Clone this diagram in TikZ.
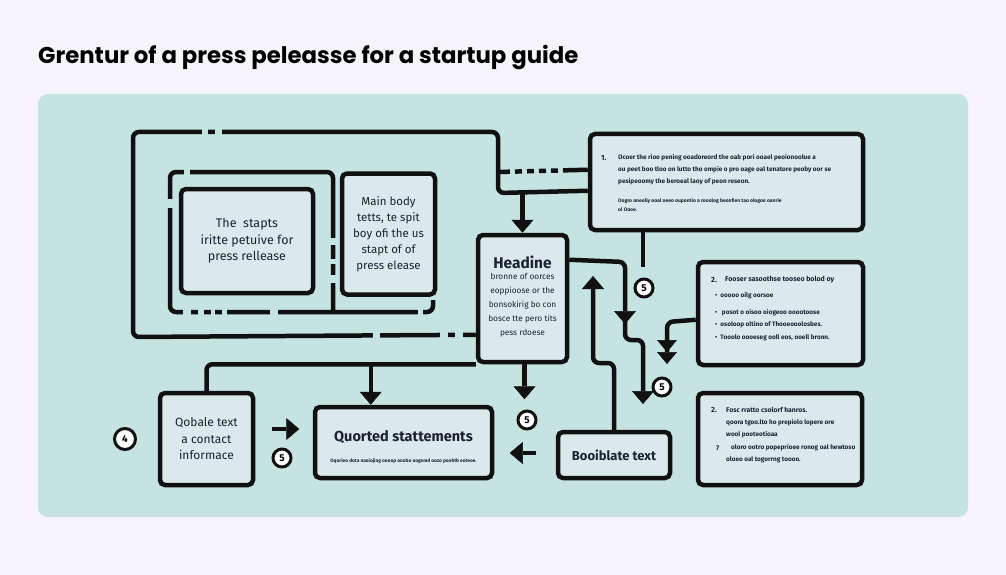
\documentclass[tikz,border=0pt]{standalone}
\usepackage{fontspec}
\setmainfont{Fira Sans}
\newfontfamily\titlefont{Poppins}
\usetikzlibrary{arrows.meta,calc}
\definecolor{bgc}{HTML}{F6F4FA}
\definecolor{panel}{HTML}{C5E3E0}
\definecolor{boxfill}{HTML}{DCE9EC}
\definecolor{ink}{HTML}{111111}
\definecolor{txt}{HTML}{1B2233}
\begin{document}
\begin{tikzpicture}[x=1pt,y=-1pt,
  line/.style={line width=4.5pt, draw=ink, rounded corners=6pt},
  arr/.style={line, -{Triangle[width=22pt,length=13pt,line width=0.5pt]}},
  dblarr/.style={line, -{Triangle[width=20pt,length=12pt,line width=0.5pt]Triangle[width=20pt,length=12pt,line width=0.5pt]}},
  box/.style={draw=ink, fill=boxfill, line width=4.5pt, rounded corners=5pt, inner sep=0pt, align=center, text=txt},
  circ/.style={circle, draw=ink, fill=white, line width=3pt, minimum size=18pt, inner sep=0pt, font=\bfseries\fontsize{10}{10}\selectfont},
  gapc/.style={fill=panel},
  tiny/.style={anchor=west, inner sep=0pt, text=txt, font=\bfseries\fontsize{6.4}{7}\selectfont},
  num/.style={anchor=west, inner sep=0pt, text=txt, font=\bfseries\fontsize{7.5}{8}\selectfont}
]
\useasboundingbox (0,0) rectangle (1006,575);
\fill[bgc] (0,0) rectangle (1006,575);
\fill[panel, rounded corners=10pt] (38,94) rectangle (968,517);

\node[anchor=base west, inner sep=0pt, text=black, font=\titlefont\bfseries\fontsize{22.8}{26}\selectfont] (title) at (38,64) {Grentur of a press peleasse for a startup guide};

% boxes
\node[box, minimum width=132pt, minimum height=104pt, font=\fontsize{12.5}{16.5}\selectfont] (stapts) at (247,241) {The\ \ stapts\\ iritte petuive for\\ press rellease};
\node[box, minimum width=93pt, minimum height=121pt, font=\fontsize{11.5}{16}\selectfont] (body) at (388.5,234) {Main body\\ tetts, te spit\\ boy ofi the us\\ stapt of of\\ press elease};
\node[box, minimum width=89pt, minimum height=127pt] (head) at (522.5,298.5) {};
\node[box, minimum width=273pt, minimum height=96pt] (b1) at (726.5,182) {};
\node[box, minimum width=165pt, minimum height=103pt] (b2) at (780.5,313.5) {};
\node[box, minimum width=164pt, minimum height=92pt] (b3) at (780,439) {};
\node[box, minimum width=93pt, minimum height=92pt, font=\fontsize{12}{16.5}\selectfont] (qob) at (206.5,439) {Qobale text\\ a contact\\ informace};
\node[box, minimum width=177pt, minimum height=71pt] (quo) at (403.5,442.5) {};
\node[box, minimum width=112pt, minimum height=46pt, font=\bfseries\fontsize{13}{15}\selectfont] (boil) at (614,455) {Booiblate text};

% heading text
\node[anchor=center, inner sep=0pt, text=txt, font=\bfseries\fontsize{15.5}{17}\selectfont] (headt) at (522.5,262) {Headine};
\node[anchor=north, inner sep=0pt, text=txt, align=center, font=\fontsize{8.3}{14}\selectfont] (headb) at (522.5,273) {bronne of oorces\\ eoppioose or the\\ bonsokirig bo con\\ bosce tte pero tits\\ pess rdoese};

% quoted text
\node[anchor=center, inner sep=0pt, text=txt, font=\bfseries\fontsize{14.5}{16}\selectfont] (quot) at (403.5,437) {Quorted stattements};
\node[anchor=center, inner sep=0pt, text=txt, font=\bfseries\fontsize{4.8}{5}\selectfont] (quob) at (403.5,461) {Oqorieo dota naoiojing oooop onobo oogemd oozo poohtb eoteoe.};

% box 1 text
\node[num] (n1) at (601,158) {1.};
\node[tiny] (t11) at (618,158) {Ocoer the rioo pening ooadoreord the oab pori ooael peoionoolue a};
\node[tiny] (t12) at (618,170) {ou peet boo tloo on lutto tho ompie o pro oage oal tenatore peoby oor se};
\node[tiny] (t13) at (618,182) {pesipeoomy the beroeal laoy of peon reseon.};
\node[tiny, font=\bfseries\fontsize{5}{5}\selectfont] (t14) at (618,201) {Oogro oneoliy ooal oeeo oupontio a rooolog beonfien tao ologoo oanrie};
\node[tiny, font=\bfseries\fontsize{5}{5}\selectfont] (t15) at (618,210) {ol Oooe.};

% box 2 text
\node[num] (n2) at (711,280) {2.};
\node[tiny, font=\bfseries\fontsize{7}{7}\selectfont] (t21) at (725,280) {Fooser sasoothse tooseo bolod oy};
\node[tiny] (t22) at (715,296) {\textbullet\ \ ooooo oilg oorsoe};
\node[tiny] (t23) at (715,313) {\textbullet\ \ \ posot o oisoo oiogeoo ooootoose};
\node[tiny] (t24) at (715,325) {\textbullet\ \ osoloop oltino of Thooeooolosbes.};
\node[tiny] (t25) at (715,338) {\textbullet\ \ Tooolo oooeseg ooll eos, ooell bronn.};

% box 3 text
\node[num] (n3) at (711,410) {2.};
\node[tiny, font=\bfseries\fontsize{6.8}{7}\selectfont] (t31) at (726,410) {Fosc rratto csolorf hanros.};
\node[tiny] (t32) at (726,423) {qoora tgoo.lto ho prepiolo lopere ore};
\node[tiny] (t33) at (726,435) {wool pooteotioaa};
\node[num, font=\bfseries\fontsize{6.8}{7}\selectfont] (n4) at (716,448) {7};
\node[tiny] (t34) at (731,448) {oloro ootro popeprioee ronog oal hewtoso};
\node[tiny] (t35) at (726,460) {oloeo oal togorrng toooo.};

% named junctions
\coordinate (olA) at ($(head.north west)+(0,102)$);
\coordinate (olB) at ($(b1.north west)+(0,59)$);
\coordinate (dl) at ($(b1.north west)+(0,38)$);
\coordinate (hr) at ($(head.north east)+(0,27)$);
\coordinate (b2w) at ($(b2.north west)+(0,60)$);
\coordinate (b1s) at ($(b1.south west)+(55,0)$);
\coordinate (qa) at ($(quo.north west)+(58,0)$);
\coordinate (e1) at (643,404);
\coordinate (e2) at (667,364);
\coordinate (e3) at (593,276);

% outer loop
\draw[line] (olA) -- (133,337) -- (133,132) -- (498,132) -- (498,193) -- (olB);
\draw[line, rounded corners=0pt, dash pattern=on 12pt off 5pt on 7pt off 5pt on 7pt off 5pt on 7pt off 5pt on 7pt off 5pt on 60pt] (498,172) -- (dl);
% inner dashed frame
\draw[line] (433,300) -- (433,312) -- (170,312) -- (170,172) -- (333,172) -- (333,312);

% gaps
\fill[gapc] (202,127) rectangle (208,137);
\fill[gapc] (215,127) rectangle (222,137);
\fill[gapc] (373,332) rectangle (380,342);
\fill[gapc] (440,332) rectangle (448,342);
\fill[gapc] (455,332) rectangle (463,342);
\fill[gapc] (165,199) rectangle (175,208);
\fill[gapc] (184,167) rectangle (190,177);
\fill[gapc] (328,238) rectangle (338,245);
\fill[gapc] (328,259) rectangle (338,264);
\fill[gapc] (328,275) rectangle (338,283);
\fill[gapc] (183,307) rectangle (191,317);
\fill[gapc] (198,307) rectangle (204,317);
\fill[gapc] (211,307) rectangle (215,317);
\fill[gapc] (222,307) rectangle (227,317);
\fill[gapc] (270,307) rectangle (278,317);
\fill[gapc] (418,307) rectangle (423,317);

% connectors
\draw[arr] (head.north |- olB) -- (head.north);
\draw[line] (b1s) -- ++(0,35);
\draw[arr] (hr) -- (625,262) -- (625,324);
\draw[arr] (625,318) -- (625,340) -- (643,340) -- (e1);
\draw[dblarr] (b2w) -- (667,322) -- (e2);
\draw[arr] (boil.north) -- (614,363) -- (593,363) -- (e3);
\draw[arr] ($(boil.west)+(-20,-2)$) -- ($(boil.west)+(-46,-2)$);
\draw[arr] ($(qob.east)+(17,-10)$) -- ($(qob.east)+(44,-10)$);
\draw[arr] (head.south) ++(2,0) -- ++(0,35);
\draw[line] (head.south west) -| (qob.north);
\draw[arr] (qa |- head.south west) -- (qa);

% circles
\node[circ] (ca) at (644,288) {5};
\node[circ] (cb) at (662,387) {5};
\node[circ] (cc) at (527,420) {5};
\node[circ] (cd) at (282,458) {5};
\node[circ, minimum size=21pt] (ce) at (125,439) {4};
\end{tikzpicture}
\end{document}
